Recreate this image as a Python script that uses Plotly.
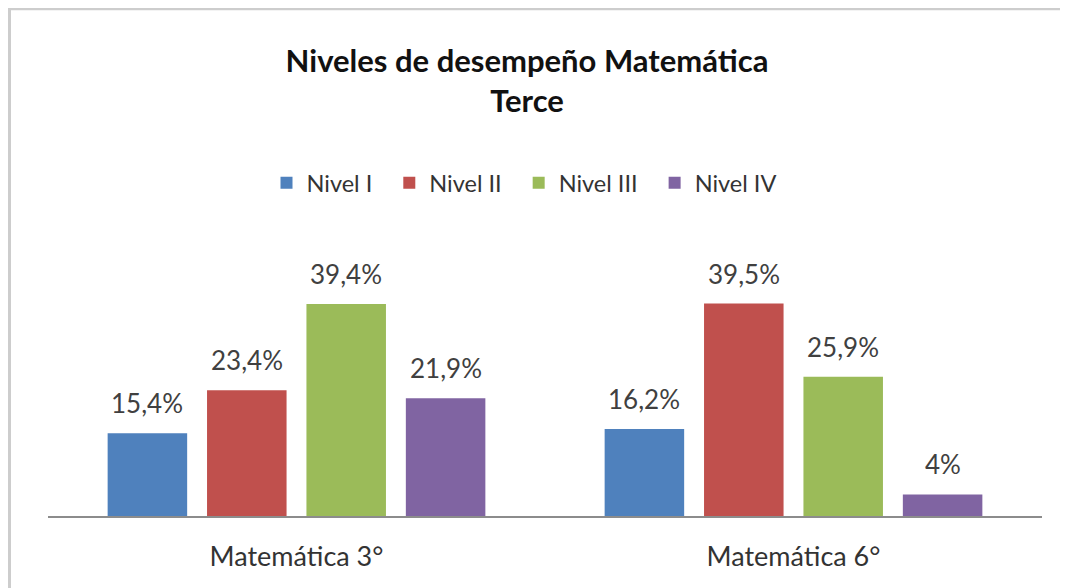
import plotly.graph_objects as go

categories = ["Matemática 3°", "Matemática 6°"]
series_names = ["Nivel I", "Nivel II", "Nivel III", "Nivel IV"]
nivel_1 = [15.4, 16.2]
nivel_2 = [23.4, 39.5]
nivel_3 = [39.4, 25.9]
nivel_4 = [21.9, 4.0]
colors = ["#4F81BD", "#C0504D", "#9BBB59", "#8064A2"]

series_values = [nivel_1, nivel_2, nivel_3, nivel_4]

# the page body adds an 8px margin, so the figure is 8px smaller on each axis
W, H = 1060, 580
ML, MR, MT, MB = 40, 26, 266, 72
FONT = "Lato"
BARGAP = 0.2
GROUPGAP = 0.2

fig = go.Figure()
for k, (name, vals, col) in enumerate(zip(series_names, series_values, colors)):
    pad = "\u00a0" * 2 if k < len(series_names) - 1 else ""
    fig.add_trace(go.Bar(name=name + pad, x=categories, y=vals,
                         marker=dict(color=col, line=dict(width=0))))


def fmt(v):
    s = ("%.1f" % v).rstrip("0").rstrip(".")
    return s.replace(".", ",") + "%"


slot = (1 - BARGAP) / len(series_names)
annotations = []
for j, vals in enumerate(series_values):
    for i, v in enumerate(vals):
        annotations.append(dict(
            x=i + (j - (len(series_names) - 1) / 2) * slot, y=v, xref="x", yref="y",
            text=fmt(v), showarrow=False, yanchor="bottom", yshift=12,
            font=dict(family=FONT, size=26, color="#404040")))

ph = H - MT - MB
pw = W - ML - MR
def px_x(p):
    return (p - ML) / pw
def px_y(p):
    return (H - MB - p) / ph

shapes = [dict(type="rect", xref="paper", yref="paper",
               x0=px_x(1.5), x1=px_x(1090), y0=px_y(0.8), y1=px_y(620),
               line=dict(color="#cdcdcd", width=3), fillcolor="rgba(0,0,0,0)", layer="below")]

fig.update_layout(
    width=W, height=H,
    margin=dict(l=ML, r=MR, t=MT, b=MB),
    paper_bgcolor="white", plot_bgcolor="white",
    barmode="group", bargap=BARGAP, bargroupgap=GROUPGAP,
    title=dict(text="<b>Niveles de desempeño Matemática<br>Terce</b>", xref="container", yref="container",
               x=519 / W, xanchor="center", y=1 - 64 / H, yanchor="top",
               font=dict(family=FONT, size=31, color="#111111")),
    legend=dict(orientation="h", xref="container", yref="container", x=516 / W, xanchor="center",
                y=1 - 175 / H, yanchor="middle", font=dict(family=FONT, size=23.5, color="#333333"),
                itemclick=False, traceorder="normal"),
    xaxis=dict(showline=True, linecolor="#8c8c8c", linewidth=2, ticks="", showgrid=False,
               tickfont=dict(family=FONT, size=27, color="#333333"), ticklabelstandoff=16),
    yaxis=dict(range=[0, 45], visible=False, showgrid=False, zeroline=False),
    annotations=annotations, shapes=shapes,
)

fig.write_html("out.html")
